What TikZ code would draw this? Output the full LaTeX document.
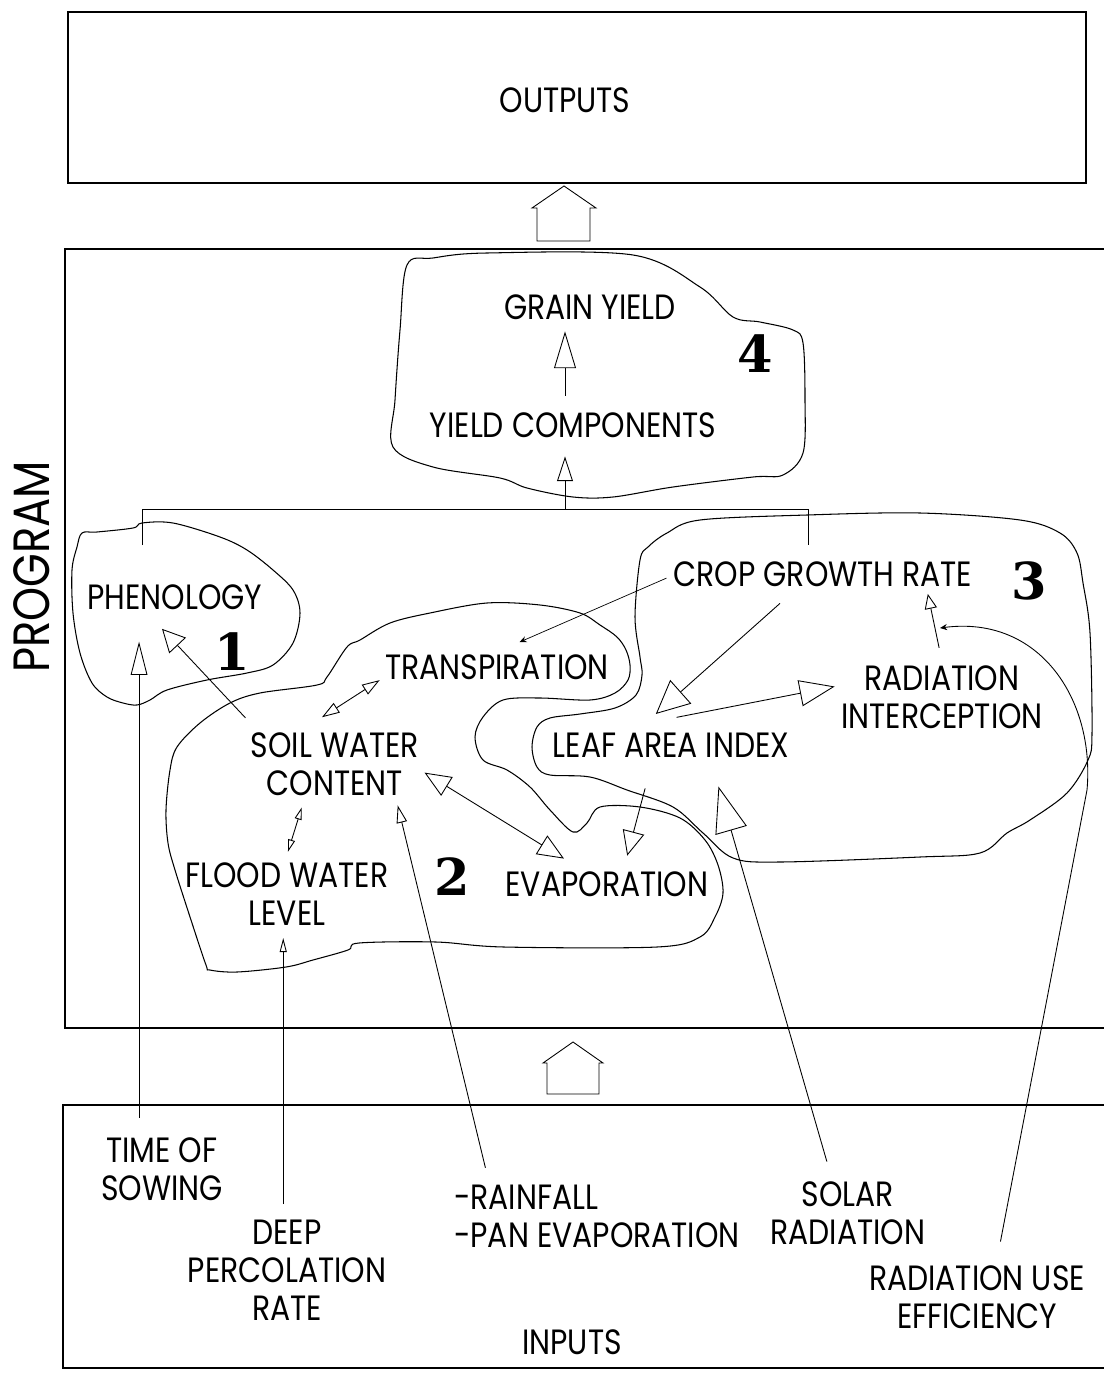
\documentclass[tikz,border=0pt]{standalone}
\usepackage{fontspec}
\setmainfont{Poppins}[FakeStretch=0.85]
\newfontfamily\numfont{DejaVu Serif}
\usetikzlibrary{arrows.meta}

\tikzset{
  lbl/.style={inner sep=2pt, align=center, font=\fontsize{20}{21.5}\selectfont},
  num/.style={inner sep=0pt, font=\numfont\bfseries\fontsize{29}{29}\selectfont},
  boxline/.style={line width=0.9pt},
  blob/.style={line width=0.6pt, smooth cycle, tension=0.55},
  opentip/.style 2 args={arrows={-{Triangle[open,length=#1,width=#2]}}},
  opentips/.style 2 args={arrows={{Triangle[open,length=#1,width=#2]}-{Triangle[open,length=#1,width=#2]}}},
  smalltip/.style={arrows={-{Stealth[length=4pt,width=3.5pt]}}}
}

\begin{document}
\begin{tikzpicture}[x=0.02cm, y=-0.02cm, line width=0.5pt]
\useasboundingbox (0,0) rectangle (1104,1375);

\draw[boxline] (68,12) rectangle (1086,183);
\node[lbl] (outputs) at (565,100) {OUTPUTS};
\draw (537,241) -- (537,208) -- (532,208) -- (564,186) -- (596,208) -- (590,208) -- (590,241) -- cycle;

\draw[boxline] (1104,249) -- (65,249) -- (65,1028) -- (1104,1028);
\node[lbl, rotate=90, font=\fontsize{29}{29}\selectfont] (program) at (32,567) {PROGRAM};
\draw (547,1094) -- (547,1063) -- (543,1063) -- (573,1042) -- (603,1063) -- (599,1063) -- (599,1094) -- cycle;

\draw[boxline] (1104,1105) -- (63,1105) -- (63,1368) -- (1104,1368);
\node[lbl] (inputs) at (572,1342) {INPUTS};

\draw[blob] plot coordinates {(407,265) (433,258) (487,253) (633,255) (700,287) (733,317) (760,322) (793,330) (803,343) (805,400) (803,453) (783,475) (753,477) (673,487) (613,497) (573,497) (527,488) (500,478) (433,467) (393,447) (395,400) (400,330)};
\draw[blob] plot coordinates {(82,533) (97,532) (133,528) (142,523) (173,523) (220,537) (247,550) (273,570) (293,590) (300,613) (293,643) (273,665) (247,673) (207,680) (167,690) (150,700) (137,705) (123,703) (107,697) (92,683) (80,653) (73,613) (72,570) (77,547)};
\draw[blob] plot coordinates {(166,810) (170,770) (177,747) (200,723) (230,703) (260,693) (317,685) (327,677) (347,647) (360,640) (390,623) (430,613) (487,603) (540,605) (580,613) (600,625) (617,637) (626,650) (630,665) (628,680) (615,693) (590,700) (540,698) (503,700) (483,717) (475,737) (483,760) (507,770) (530,787) (550,810) (573,832) (587,823) (600,807) (640,807) (680,818) (705,840) (718,865) (723,893) (715,917) (700,937) (657,947) (504,947) (436,942) (359,943) (348,950) (313,960) (286,967) (237,972) (210,970) (206,965) (191,920) (175,870) (168,843)};
\draw[blob] plot coordinates {(640,560) (635,617) (640,657) (642,675) (636,695) (615,708) (580,714) (550,718) (537,727) (532,747) (537,767) (550,775) (590,777) (627,790) (673,807) (703,833) (733,858) (780,862) (920,857) (980,853) (1007,833) (1030,820) (1067,793) (1088,760) (1092,733) (1090,633) (1083,583) (1077,553) (1060,533) (1020,520) (920,513) (807,515) (700,520) (667,533) (648,547)};

\node[lbl] (grain) at (590,307) {GRAIN YIELD};
\node[lbl] (ycomp) at (573,425) {YIELD COMPONENTS};
\node[lbl] (pheno) at (175,597) {PHENOLOGY};
\node[lbl] (transp) at (497,667) {TRANSPIRATION};
\node[lbl] (soilw) at (335,764) {SOIL WATER\\CONTENT};
\node[lbl] (flood) at (287,894) {FLOOD WATER\\LEVEL};
\node[lbl] (evap) at (607,884) {EVAPORATION};
\node[lbl] (cgr) at (823,574) {CROP GROWTH RATE};
\node[lbl] (radint) at (942,697) {RADIATION\\INTERCEPTION};
\node[lbl] (lai) at (671,745) {LEAF AREA INDEX};

\node[lbl] (sowing) at (162,1169) {TIME OF\\SOWING};
\node[lbl] (perc) at (287,1270) {DEEP\\PERCOLATION\\RATE};
\node[lbl, align=left] (rain) at (597,1216) {-RAINFALL\\-PAN EVAPORATION};
\node[lbl] (solar) at (848,1213) {SOLAR\\RADIATION};
\node[lbl] (rue) at (977,1297) {RADIATION USE\\EFFICIENCY};

\node[num] (n1) at (232,652) {1};
\node[num] (n2) at (452,877) {2};
\node[num] (n3) at (1029,581) {3};
\node[num] (n4) at (755,354) {4};

\coordinate (bus) at (565,509);
\draw (142,545) -- (142,509) -- (808,509) -- (808,545);
\draw[opentip={14pt}{9pt}, shorten >=8.5pt] (bus) -- (bus |- ycomp.south);
\draw[opentip={21pt}{12.5pt}, shorten <=7.4pt, shorten >=4.5pt] (bus |- ycomp.north) -- (bus |- grain.south);

\draw[opentip={19pt}{9.5pt}, shorten <=9pt, shorten >=16pt] (sowing.123) -- (sowing.123 |- pheno.south);
\draw[opentip={8pt}{4pt}, shorten <=6.8pt, shorten >=5pt] (perc.94) -- (perc.94 |- flood.south);
\draw[opentip={10pt}{6pt}, shorten <=7.6pt, shorten >=3.5pt] (rain.162) -- (soilw.-30);
\draw[opentip={26pt}{18.5pt}, shorten <=9.5pt, shorten >=15pt] (solar.115) -- (lai.-22);
\coordinate (ruebend) at (1087,790);
\coordinate (rueend) at (940,628);
\draw[smalltip, shorten <=11.6pt] (rue.61) -- (ruebend) .. controls (1095,700) and (1040,615) .. (rueend);

\draw[opentip={13pt}{13pt}, shorten <=8.4pt, shorten >=12pt] (soilw.156) -- (pheno.211);
\draw[opentips={10pt}{6.5pt}, shorten <=12pt, shorten >=1pt] (soilw.131) -- (transp.186);
\draw[opentips={15pt}{12.5pt}, shorten <=1pt, shorten >=9.7pt] (soilw.-5) -- (evap.150);
\draw[opentips={7pt}{4pt}, shorten <=4.8pt, shorten >=4.2pt] (soilw.229) -- (flood.92);
\draw[smalltip, line width=0.4pt, shorten <=2pt, shorten >=12pt] (cgr.181) -- (transp.79);
\draw[opentip={19pt}{18pt}, shorten <=11pt, shorten >=12.7pt] (cgr.210) -- (lai.153);
\draw[opentip={20pt}{15pt}, shorten <=34pt, shorten >=1.5pt] (lai.163) -- (radint.174);
\draw[opentip={8.5pt}{7pt}, shorten <=8pt, shorten >=2pt] (radint.north) -- (cgr.-9);
\draw[opentip={14pt}{12.5pt}, shorten <=16pt, shorten >=7pt] (lai.221) -- (evap.44);
\end{tikzpicture}
\end{document}
